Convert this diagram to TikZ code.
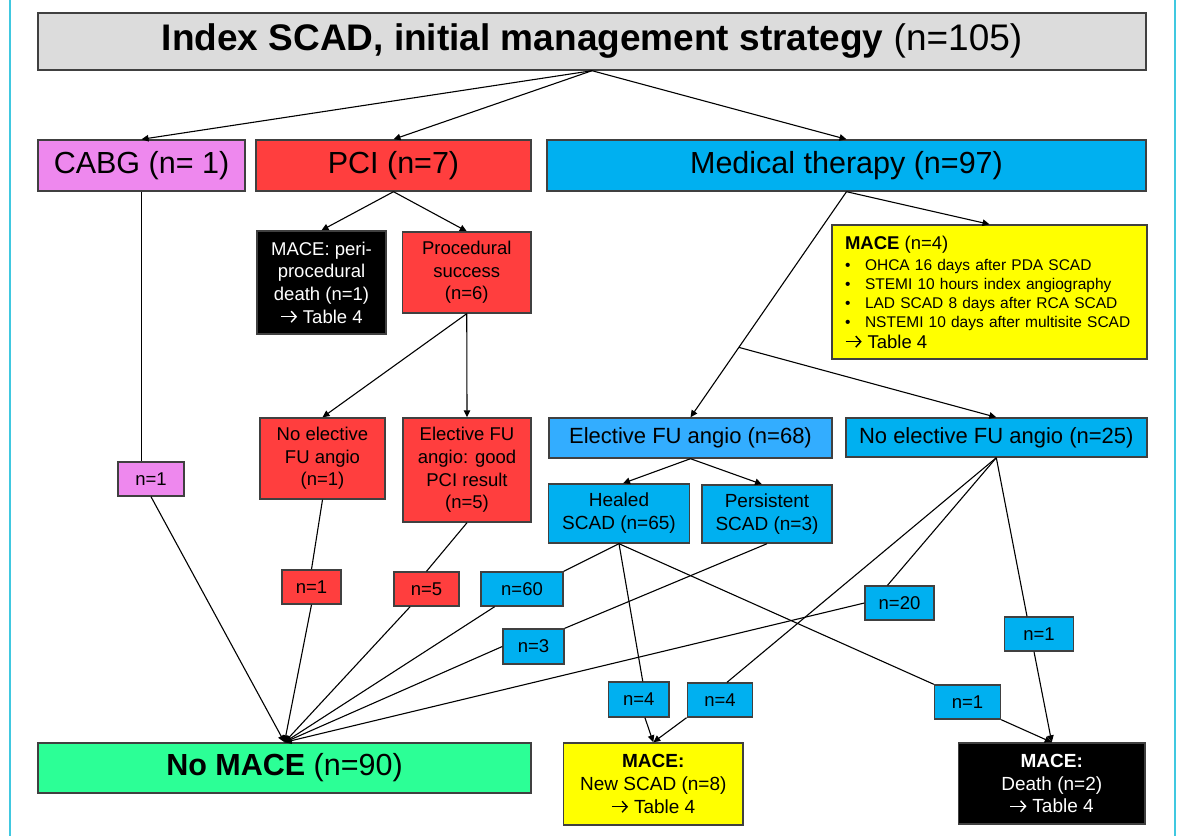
\documentclass[tikz,border=0pt]{standalone}
\usepackage{fontspec}
\setmainfont{Liberation Sans}
\usetikzlibrary{calc,arrows.meta}

\definecolor{titlegray}{HTML}{DCDCDC}
\definecolor{cabgpink}{HTML}{EE88EE}
\definecolor{pcired}{HTML}{FF3E3E}
\definecolor{medcyan}{HTML}{00B0F0}
\definecolor{efublue}{HTML}{33ADFF}
\definecolor{maceyellow}{HTML}{FFFF00}
\definecolor{nomacegreen}{HTML}{2CFF96}
\definecolor{rimgray}{HTML}{404040}
\definecolor{sidecyan}{HTML}{40C8E0}

\newcommand{\fhuge}{\fontsize{37}{42}\selectfont}
\newcommand{\fbig}{\fontsize{30.5}{36}\selectfont}
\newcommand{\fmid}{\fontsize{22}{26}\selectfont}
\newcommand{\fsmall}{\fontsize{18.5}{22.7}\selectfont}
\newcommand{\flist}{\fontsize{15.5}{19}\selectfont}
\newcommand{\tblarrow}{\tikz[baseline=-6.5pt]\draw[color=., line width=1.4pt, -{Straight Barb[length=5pt,width=11pt]}] (0,0) -- (16pt,0);}
\newcommand{\totable}{\tblarrow\ Table 4}

\tikzset{
	box/.style={draw=rimgray, line width=1.4pt, inner sep=0pt, align=center, font=\fsmall},
	nbox/.style={box, minimum height=34pt},
	link/.style={line width=1.1pt, black},
	arr/.style={link, -{Triangle[length=7pt,width=6.5pt]}}
}

\begin{document}
\begin{tikzpicture}[x=1pt, y=-1pt]
		%%%%% START %%%%%
		\useasboundingbox (0,0) rectangle (1178,836);
		\draw[sidecyan, line width=1.5pt] (10,0) -- (10,836);
		\draw[sidecyan, line width=1.5pt] (1175,0) -- (1175,836);
		
		% top level
		\node[box, fill=titlegray, minimum width=1108pt, minimum height=57pt, font=\fhuge] (index) at (592,41.5) {\textbf{Index SCAD, initial management strategy} (n=105)};
		\node[box, fill=cabgpink, minimum width=207pt, minimum height=51pt, font=\fbig] (cabg) at (141.5,165.5) {CABG (n= 1)};
		\node[box, fill=pcired, minimum width=275pt, minimum height=51pt, font=\fbig] (pci) at (393.5,165.5) {PCI (n=7)};
		\node[box, fill=medcyan, minimum width=599pt, minimum height=51pt, font=\fbig] (med) at (846.5,165.5) {Medical therapy (n=97)};
		
		% PCI branch
		\node[box, fill=black, text=white, minimum width=129pt, minimum height=103pt] (periproc) at (321.5,282.5) {MACE: peri-\\procedural\\death (n=1)\\\totable};
		\node[box, fill=pcired, minimum width=128.5pt, minimum height=81pt] (procsucc) at (466.75,272.5) {Procedural\\success\\(n=6)};
		\node[box, fill=pcired, minimum width=125pt, minimum height=81pt] (pcinofu) at (322.5,458.5) {No elective\\FU angio\\(n=1)};
		\node[box, fill=pcired, minimum width=128pt, minimum height=104pt] (pcifu) at (467,470) {Elective FU\\angio: good\\PCI result\\(n=5)};
		
		% medical branch
		\node[box, fill=maceyellow, minimum width=315pt, minimum height=134pt, align=left, inner xsep=13pt, text width=289pt, font=\flist] (mace4) at (989.5,292) {{\fontsize{18.5}{19}\selectfont\textbf{MACE} (n=4)}\\[2pt]
			\makebox[20pt][l]{•}OHCA 16 days after PDA SCAD\\
			\makebox[20pt][l]{•}STEMI 10 hours index angiography\\
			\makebox[20pt][l]{•}LAD SCAD 8 days after RCA SCAD\\
			\makebox[20pt][l]{•}NSTEMI 10 days after multisite SCAD\\[2pt]
			{\fontsize{18.5}{19}\selectfont\totable}};
		\node[box, fill=efublue, minimum width=283pt, minimum height=40pt, font=\fmid] (efu) at (690.5,438) {Elective FU angio (n=68)};
		\node[box, fill=medcyan, minimum width=301pt, minimum height=39pt, font=\fmid] (nefu) at (996.3,437.5) {No elective FU angio (n=25)};
		\node[box, fill=medcyan, minimum width=140.5pt, minimum height=59pt, font=\fontsize{19}{23}\selectfont] (healed) at (619,513.5) {Healed\\SCAD (n=65)};
		\node[box, fill=medcyan, minimum width=130pt, minimum height=58pt, font=\fontsize{19}{23}\selectfont] (persist) at (767,514) {Persistent\\SCAD (n=3)};
		
		% count boxes
		\node[nbox, fill=cabgpink, minimum width=66pt] (ncabg) at (151,479) {n=1};
		\node[nbox, fill=pcired, minimum width=59pt] (npcinofu) at (311.5,587) {n=1};
		\node[nbox, fill=pcired, minimum width=65pt] (npcifu) at (426.5,589) {n=5};
		\node[nbox, fill=medcyan, minimum width=82pt] (nhealed) at (522,589) {n=60};
		\node[nbox, fill=medcyan, minimum width=61pt, minimum height=35pt] (npersist) at (533.5,646.5) {n=3};
		\node[nbox, fill=medcyan, minimum width=69pt] (nnefu) at (899.5,603) {n=20};
		\node[nbox, fill=medcyan, minimum width=69.5pt] (nnefudeath) at (1039,634) {n=1};
		\node[nbox, fill=medcyan, minimum width=60.5pt, minimum height=35pt] (nhealedscad) at (638.75,699.5) {n=4};
		\node[nbox, fill=medcyan, minimum width=65.5pt] (nnefuscad) at (720,700) {n=4};
		\node[nbox, fill=medcyan, minimum width=66pt] (nhealeddeath) at (967.5,702) {n=1};
		
		% outcomes
		\node[box, fill=nomacegreen, minimum width=493pt, minimum height=50pt, font=\fbig] (nomace) at (284.5,768) {\textbf{No MACE} (n=90)};
		\node[box, fill=maceyellow, minimum width=179.5pt, minimum height=82pt, font=\fontsize{19}{22.7}\selectfont] (newscad) at (653.3,784) {\textbf{MACE:}\\New SCAD (n=8)\\\totable};
		\node[box, fill=black, text=white, minimum width=186.5pt, minimum height=81pt, font=\fontsize{19}{22.7}\selectfont] (death) at (1051.75,783.5) {\textbf{MACE:}\\Death (n=2)\\\totable};
		
		% connectors
		\draw[arr] (index.south) -- (cabg.north);
		\draw[arr] (index.south) -- (pci.north);
		\draw[arr] (index.south) -- (med.north);
		
		\draw[link] (cabg.south) -- (cabg.south |- ncabg.north);
		\draw[arr] (ncabg.south) -- (nomace.north);
		
		\draw[arr] (pci.south) -- (periproc.north);
		\draw[arr] (pci.south) -- (procsucc.north);
		\draw[arr] (procsucc.south) -- (pcinofu.north);
		\draw[arr] (procsucc.south) -- (pcifu.north);
		\draw[link] (pcinofu.south) -- (npcinofu.north);
		\draw[arr] (npcinofu.south) -- (nomace.north);
		\draw[link] (pcifu.south) -- (npcifu.north);
		\draw[arr] (npcifu) -- (nomace.north);
		
		\coordinate (split) at ($(med.south)!0.69!(efu.north)$);
		\draw[arr] (med.south) -- (mace4.north);
		\draw[arr] (med.south) -- (efu.north);
		\draw[arr] (split) -- (nefu.north);
		
		\draw[arr] (efu.south) -- ([xshift=4pt]healed.north);
		\draw[arr] (efu.south) -- ([xshift=-5pt]persist.north);
		\draw[link] (healed.south) -- (nhealed.north east);
		\draw[arr] (nhealed) -- (nomace.north);
		\draw[link] (persist.south) -- (npersist.north east);
		\draw[arr] (npersist.west) -- (nomace.north);
		\draw[link] (healed.south) -- ([xshift=4pt]nhealedscad.north);
		\draw[arr] (nhealedscad) -- (newscad.north);
		\draw[link] (healed.south) -- (nhealeddeath.north west);
		\draw[arr] (nhealeddeath.south east) -- (death.north);
		
		\draw[link] (nefu.south) -- ([xshift=-12pt]nnefu.north);
		\draw[arr] (nnefu.west) -- (nomace.north);
		\draw[link] (nefu.south) -- ([xshift=7pt]nnefuscad.north);
		\draw[arr] (nnefuscad.south west) -- (newscad.north);
		\draw[link] (nefu.south) -- ([xshift=-12pt]nnefudeath.north);
		\draw[arr] ([xshift=-5pt]nnefudeath.south) -- (death.north);
		%%%%% END %%%%%
\end{tikzpicture}
\end{document}
